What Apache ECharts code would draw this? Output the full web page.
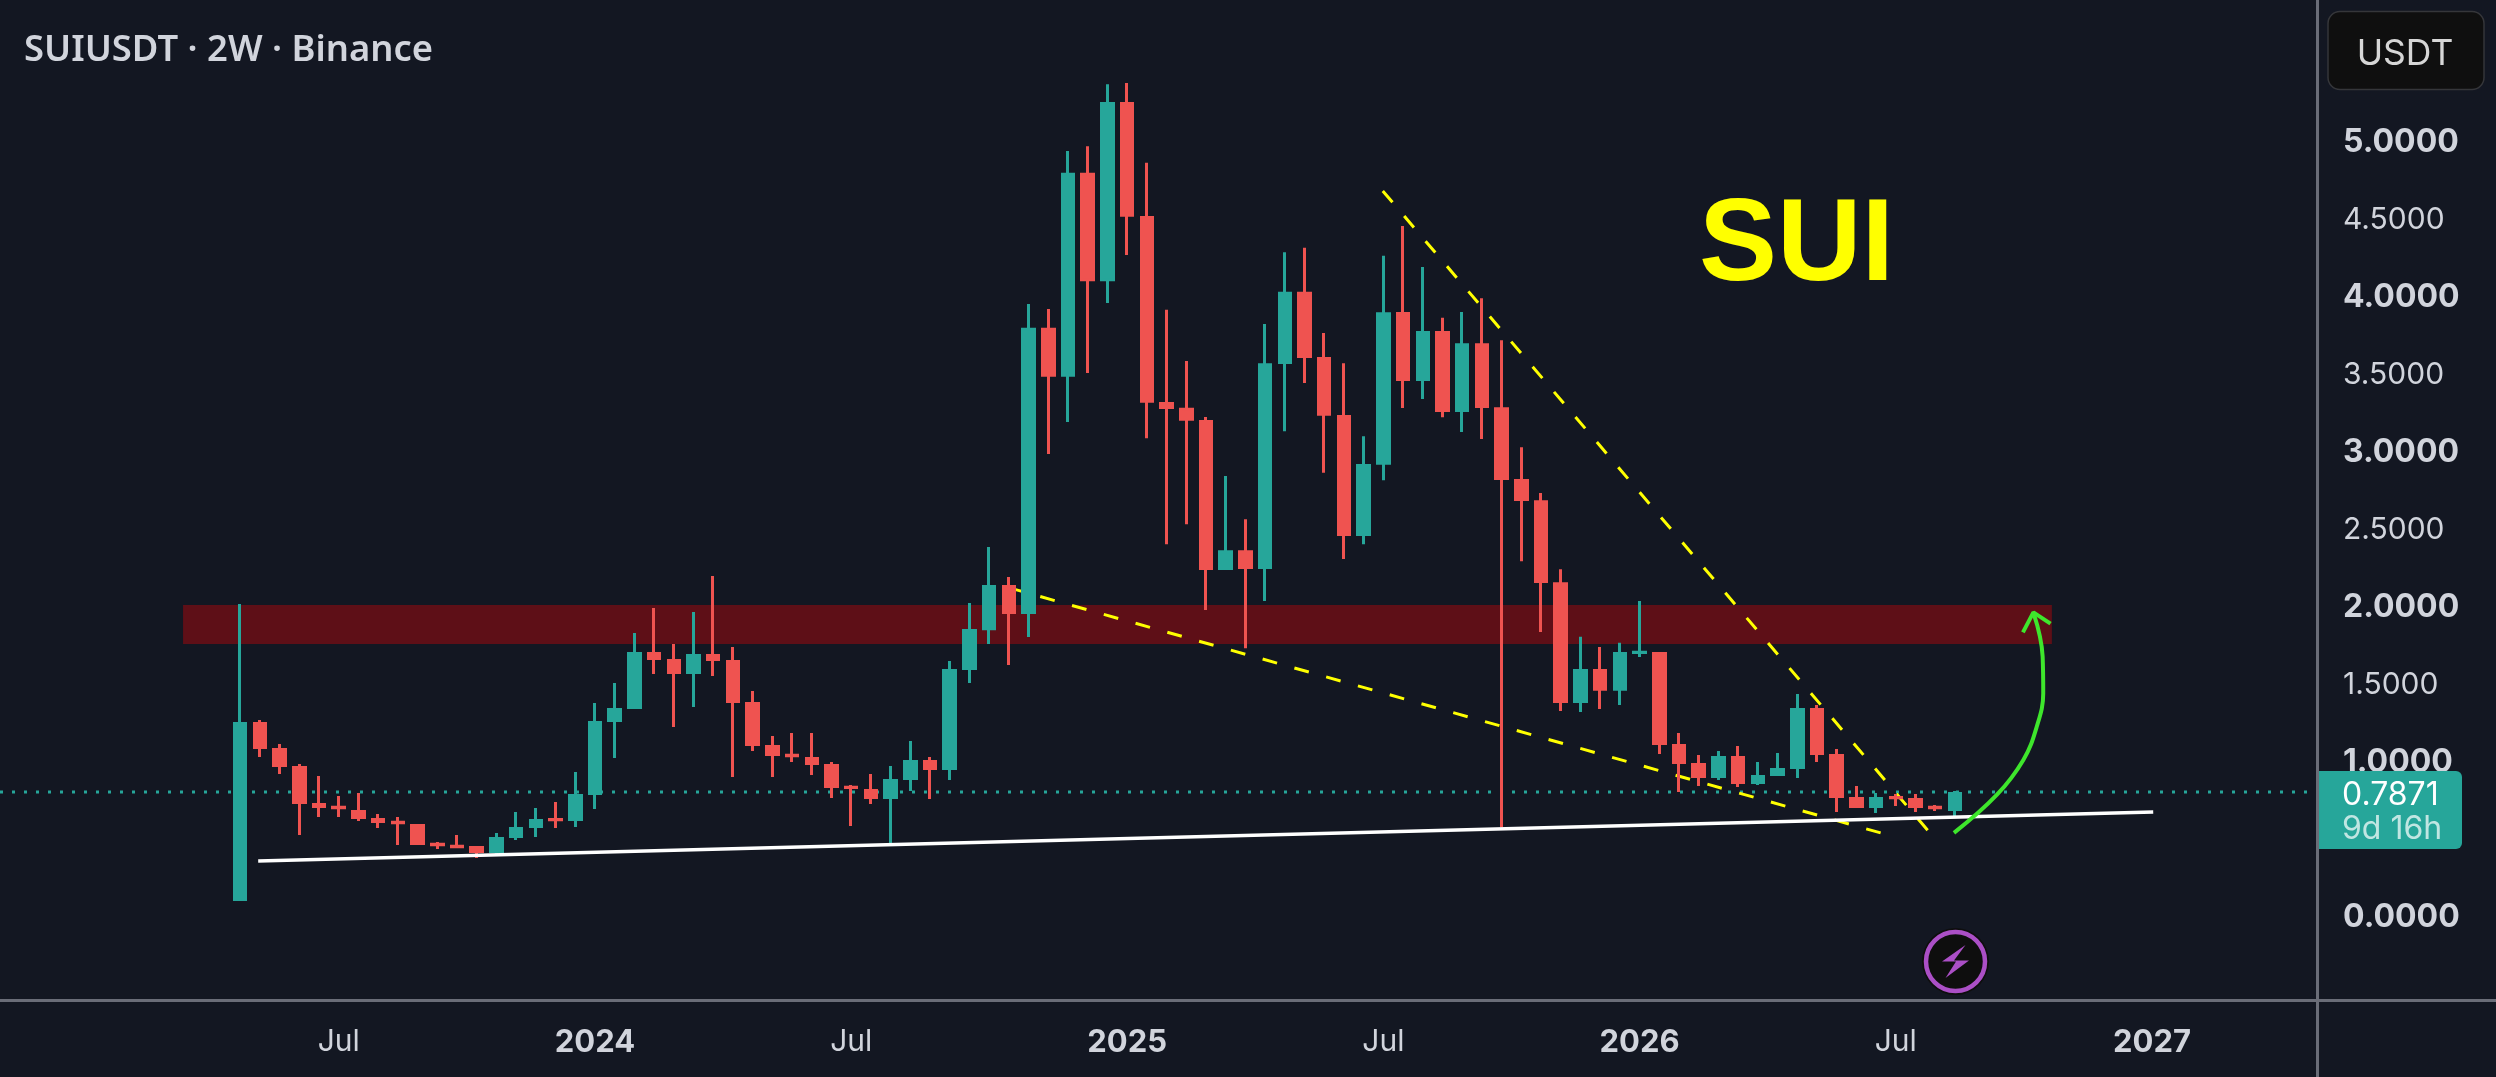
<!DOCTYPE html>
<html>
<head>
<meta charset="utf-8">
<script src="https://cdn.jsdelivr.net/npm/echarts@6/dist/echarts.min.js"></script>
<style>html,body{margin:0;padding:0;background:#131722;overflow:hidden}#c{width:2496px;height:1077px}</style>
</head>
<body>
<div id="c"></div>
<script>
// Two-week candles, index 0..87
const opens = [0.084,1.239,1.071,0.955,0.716,0.697,0.671,0.619,0.600,0.581,0.458,0.445,0.439,0.394,0.490,0.555,0.619,0.600,0.768,1.239,1.323,1.690,1.645,1.548,1.677,1.639,1.368,1.090,1.032,1.013,0.968,0.826,0.807,0.742,0.865,0.994,0.929,1.574,1.831,2.122,1.935,3.782,3.466,4.782,4.083,5.238,4.503,3.303,3.266,3.187,2.219,2.347,2.226,3.549,4.014,3.594,3.219,2.438,2.898,3.884,3.438,3.762,3.238,3.683,3.270,2.806,2.670,2.141,1.361,1.581,1.440,1.680,1.690,1.097,0.974,0.877,1.019,0.839,0.890,0.936,1.329,1.032,0.755,0.684,0.761,0.748,0.697,0.665];
const closes = [1.239,1.065,0.948,0.710,0.684,0.677,0.613,0.587,0.581,0.445,0.439,0.426,0.394,0.497,0.561,0.613,0.600,0.774,1.245,1.329,1.690,1.639,1.548,1.677,1.632,1.361,1.084,1.019,1.013,0.961,0.813,0.807,0.742,0.871,0.994,0.929,1.581,1.839,2.122,1.935,3.782,3.466,4.782,4.083,5.238,4.498,3.298,3.258,3.182,2.219,2.347,2.226,3.554,4.014,3.587,3.214,2.438,2.903,3.883,3.438,3.762,3.238,3.683,3.265,2.800,2.665,2.135,1.361,1.581,1.440,1.690,1.697,1.090,0.968,0.877,1.019,0.839,0.897,0.942,1.329,1.026,0.748,0.684,0.755,0.742,0.684,0.677,0.787];
const lows = [0.084,1.013,0.903,0.510,0.626,0.626,0.600,0.555,0.445,0.445,0.419,0.426,0.361,0.387,0.477,0.497,0.555,0.561,0.677,1.006,1.323,1.548,1.206,1.335,1.535,0.884,1.052,0.884,0.981,0.897,0.748,0.568,0.710,0.456,0.794,0.742,0.865,1.490,1.742,1.606,1.787,2.967,3.174,3.490,3.942,4.251,3.070,2.386,2.515,1.962,2.219,1.715,2.019,3.115,3.426,2.846,2.290,2.386,2.799,3.265,3.322,3.205,3.110,3.064,0.560,2.276,1.820,1.310,1.304,1.323,1.348,1.658,1.032,0.787,0.826,0.865,0.819,0.832,0.890,0.877,0.981,0.658,0.684,0.652,0.697,0.658,0.665,0.632];
const highs = [2.000,1.252,1.097,0.968,0.890,0.761,0.781,0.645,0.626,0.581,0.465,0.510,0.439,0.523,0.658,0.684,0.723,0.916,1.361,1.490,1.813,1.974,1.742,1.948,2.181,1.723,1.439,1.148,1.168,1.168,0.981,0.832,0.903,0.955,1.116,1.013,1.632,2.007,2.367,2.174,3.935,3.903,4.922,4.954,5.354,5.362,4.846,3.898,3.567,3.206,2.826,2.547,3.806,4.270,4.298,3.749,3.554,3.083,4.246,4.438,4.174,3.846,3.884,3.973,3.702,3.012,2.716,2.225,1.788,1.722,1.750,2.019,1.690,1.168,1.026,1.052,1.084,0.981,1.039,1.419,1.348,1.065,0.826,0.781,0.774,0.774,0.703,0.794];

// Axis labels
const xTickIndex = [5,18,31,45,58,71,84,97];
const xTickText = ['Jul','2024','Jul','2025','Jul','2026','Jul','2027'];
const yTicks = [0,1,1.5,2,2.5,3,3.5,4,4.5,5];
const lastPrice = 0.7871;
const priceTagText = '0.7871';
const countdownText = '9d 16h';

// Drawings, in [candle index, price]
const supportLine = [[0.913,0.342],[97.06,0.658]];
const lowerTrend = [[38.98,2.106],[83.24,0.523]];
const upperTrend = [[57.97,4.665],[85.62,0.540]];
const arrowCurve = [[86.95,0.523],[89.12,0.768],[90.47,0.994],[91.15,1.208],[91.48,1.424],[91.45,1.660],[90.98,1.946]];
const arrowHead = [[90.45,1.817],[90.98,1.946],[91.85,1.873]];
const bandPrices = [1.994,1.742];
const bandIndex = [-2.90,91.92];

// The candle body stroke adds half its width on each side: pull the body edges in by that much.
const strokeInset = 1.5 / 155;
const candles = opens.map((o,i)=>{
  const c = closes[i], d = Math.min(strokeInset, Math.abs(c-o)*0.45), s = c>=o ? 1 : -1;
  return [i,o+s*d,c-s*d,lows[i],highs[i]];
});
const AX = '#d1d4dc', FF = 'Inter, sans-serif';
const richX = {
  b:{fontFamily:FF,fontWeight:700,fontSize:31,color:AX,padding:[6,0,0,0]},
  r:{fontFamily:FF,fontWeight:400,fontSize:30,color:AX,padding:[6,0,0,0]}
};
const richY = {
  b:{fontFamily:FF,fontWeight:700,fontSize:32,color:AX,padding:[6,0,0,0]},
  r:{fontFamily:FF,fontWeight:400,fontSize:30,color:AX,padding:[6,0,0,0]}
};
const flat = (name,data,color,width,z,extra)=>Object.assign({
  name,type:'line',data,z,symbol:'none',silent:true,animation:false,
  lineStyle:{color,width,cap:'butt'}
},extra||{});

const chart = echarts.init(document.getElementById('c'),null,{renderer:'canvas'});
chart.setOption({
  backgroundColor:'#131722',
  animation:false,
  grid:{left:0,top:0,width:2317,height:1000},
  xAxis:{
    type:'value',min:-12.187,max:105.37,
    axisLine:{show:false},axisTick:{show:false},splitLine:{show:false},
    axisLabel:{
      customValues:xTickIndex,margin:21,showMinLabel:true,showMaxLabel:true,
      formatter:v=>{const t=xTickText[xTickIndex.indexOf(v)];return t==='Jul'?'{r|'+t+'}':'{b|'+t+'}';},
      rich:richX
    }
  },
  yAxis:{
    type:'value',position:'right',min:-0.5548,max:5.8968,
    axisLine:{show:false},axisTick:{show:false},splitLine:{show:false},
    axisLabel:{
      customValues:yTicks,margin:26,
      formatter:v=>(Number.isInteger(v)?'{b|':'{r|')+v.toFixed(4)+'}',
      rich:richY
    }
  },
  series:[
    flat('Last price',[[-12.187,lastPrice],[105.37,lastPrice]],'#26a69a',3,1,{
      lineStyle:{color:'#26a69a',width:3,type:[3,9]},
      markArea:{silent:true,z:1,itemStyle:{color:'#5e0f17'},
        data:[[{coord:[bandIndex[0],bandPrices[0]]},{coord:[bandIndex[1],bandPrices[1]]}]]}
    }),
    flat('Lower trend',lowerTrend,'#ffff00',3,2,{lineStyle:{color:'#ffff00',width:3,type:[15,18]}}),
    flat('Upper trend',upperTrend,'#ffff00',3,2,{lineStyle:{color:'#ffff00',width:3,type:[15,18]}}),
    {
      name:'SUIUSDT',type:'candlestick',data:candles,z:3,barWidth:12,silent:true,
      encode:{x:0,y:[1,2,3,4]},
      itemStyle:{color:'#26a69a',color0:'#ef5350',borderColor:'#26a69a',borderColor0:'#ef5350',borderWidth:3}
    },
    flat('Support',supportLine,'#ffffff',3.5,4),
    flat('Arrow',arrowCurve,'#3ee62c',4,5,{smooth:0.4}),
    flat('Arrow head',arrowHead,'#3ee62c',4,5)
  ],
  graphic:[
    {type:'rect',z:20,shape:{x:2316,y:0,width:3,height:1077},style:{fill:'#6a6d78'}},
    {type:'rect',z:20,shape:{x:0,y:999,width:2496,height:3},style:{fill:'#6a6d78'}},
    {type:'rect',z:21,shape:{x:2319,y:771,width:143,height:78,r:[0,6,6,0]},style:{fill:'#26a69a'}},
    {type:'text',z:22,style:{x:2342,y:795,text:priceTagText,fill:'#ffffff',font:'400 32px '+FF,textVerticalAlign:'middle'}},
    {type:'text',z:22,style:{x:2342,y:829,text:countdownText,fill:'#c0e6e2',font:'400 32px '+FF,textVerticalAlign:'middle'}},
    {type:'rect',z:21,shape:{x:2328,y:11.5,width:156,height:78,r:12},style:{fill:'#0f0f0f',stroke:'#35363a',lineWidth:1.5}},
    {type:'text',z:22,style:{x:2405,y:54,text:'USDT',fill:'#d6d6d6',font:'400 35.5px '+FF,textAlign:'center',textVerticalAlign:'middle'}},
    {type:'text',z:22,style:{x:24,y:51,text:'SUIUSDT · 2W · Binance',fill:'#d1d4dc',font:'600 36.4px "Noto Sans", sans-serif',textVerticalAlign:'middle'}},
    {type:'text',z:22,style:{x:1699,y:248,text:'SUI',fill:'#ffff00',font:'700 117px "Liberation Sans", Arial, sans-serif',textVerticalAlign:'middle'}},
    {type:'circle',z:21,shape:{cx:1955.5,cy:961.5,r:33.5},style:{fill:'#0e0e0e'}},
    {type:'circle',z:22,shape:{cx:1955.5,cy:961.5,r:29.5},style:{fill:'#0e0e0e',stroke:'#ab4fc6',lineWidth:4.5}},
    {type:'polygon',z:23,shape:{points:[[1965.5,945],[1942,961.5],[1956,961.5],[1945.5,978],[1969,960.5],[1954,960.5]]},style:{fill:'#ab4fc6'}}
  ]
});
</script>
</body>
</html>
